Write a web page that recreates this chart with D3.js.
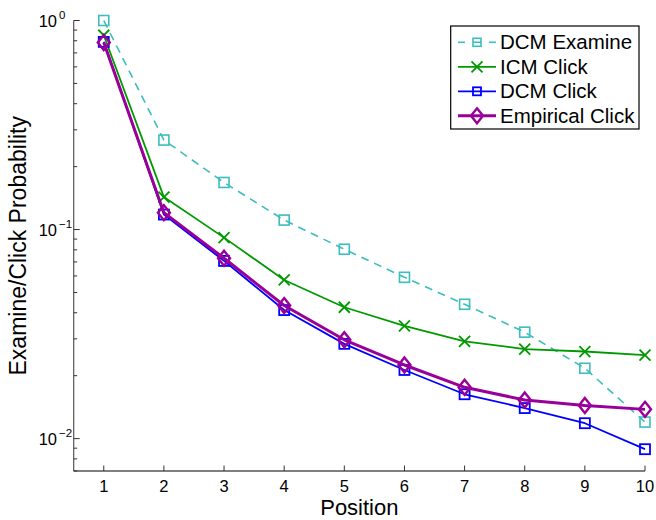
<!DOCTYPE html>
<html>
<head>
<meta charset="utf-8">
<script src="https://cdn.jsdelivr.net/npm/d3@7"></script>
<style>
  html, body { margin: 0; padding: 0; background: #fff; }
  svg { display: block; font-family: "Liberation Sans", Arial, Helvetica, sans-serif; }
</style>
</head>
<body>
<svg id="chart" width="656" height="520"></svg>
<script>
// ---- data ----
const positions = [1, 2, 3, 4, 5, 6, 7, 8, 9, 10];
const dcmExamine = [1.0, 0.268, 0.168, 0.111, 0.0805, 0.0591, 0.0439, 0.0323, 0.0217, 0.0120];
const icmClick = [0.85, 0.143, 0.0915, 0.0574, 0.0425, 0.0346, 0.0292, 0.0268, 0.0261, 0.0251];
const dcmClick = [0.79, 0.118, 0.0708, 0.0412, 0.0284, 0.0213, 0.0163, 0.0140, 0.01185, 0.0089];
const empiricalClick = [0.785, 0.1205, 0.0729, 0.0433, 0.0297, 0.0225, 0.0176, 0.0153, 0.0144, 0.0138];
const seriesNames = ["DCM Examine", "ICM Click", "DCM Click", "Empirical Click"];
const xTicks = [1, 2, 3, 4, 5, 6, 7, 8, 9, 10];
const yMajorTicks = [1, 0.1, 0.01];
const yMajorExps = ["0", "\u22121", "\u22122"];

const series = [
  { name: seriesNames[0], values: dcmExamine, color: "#3dbdbd", width: 1.6, dash: "8,6", marker: "square", mwidth: 1.6 },
  { name: seriesNames[1], values: icmClick, color: "#009a00", width: 1.8, dash: null, marker: "x", mwidth: 1.8 },
  { name: seriesNames[2], values: dcmClick, color: "#0000ff", width: 1.8, dash: null, marker: "square", mwidth: 1.8 },
  { name: seriesNames[3], values: empiricalClick, color: "#990099", width: 3, dash: null, marker: "diamond", mwidth: 2.4 }
];

// ---- layout ----
const svg = d3.select("#chart");
const pLeft = 73.7, pRight = 645, pTop = 20.5, pBottom = 471;
const x = d3.scaleLinear().domain([0.5, 10]).range([pLeft, pRight]);
const y = d3.scaleLog().domain([0.007, 1]).range([pBottom, pTop]);

// ---- axes ----
const g = svg.append("g");
g.append("line").attr("x1", pLeft).attr("x2", pLeft).attr("y1", pTop).attr("y2", pBottom)
  .attr("stroke", "#555").attr("stroke-width", 1.2);
g.append("line").attr("x1", pLeft).attr("x2", pRight).attr("y1", pBottom).attr("y2", pBottom)
  .attr("stroke", "#000").attr("stroke-width", 1.2);

const yMinor = [];
[0.001, 0.01, 0.1].forEach(d => { for (let k = 2; k <= 9; k++) yMinor.push(+(d * k).toPrecision(3)); });
yMinor.filter(v => v >= 0.007 && v < 1).forEach(v => {
  g.append("line").attr("x1", pLeft).attr("x2", pLeft + 3.5).attr("y1", y(v)).attr("y2", y(v))
    .attr("stroke", "#333").attr("stroke-width", 1);
});
yMajorTicks.forEach((v, i) => {
  g.append("line").attr("x1", pLeft).attr("x2", pLeft + 6).attr("y1", y(v)).attr("y2", y(v))
    .attr("stroke", "#333").attr("stroke-width", 1);
  g.append("text").attr("x", 57).attr("y", y(v) + 6.5)
    .attr("text-anchor", "end").attr("font-size", 16.5).attr("fill", "#000").text("10");
  g.append("text").attr("x", 59).attr("y", y(v) - 1.5)
    .attr("text-anchor", "start").attr("font-size", 11.5).attr("fill", "#000").text(yMajorExps[i]);
});

xTicks.forEach(v => {
  g.append("line").attr("x1", x(v)).attr("x2", x(v)).attr("y1", pBottom).attr("y2", pBottom - 5.5)
    .attr("stroke", "#333").attr("stroke-width", 1);
  g.append("text").attr("x", x(v)).attr("y", 491.7).attr("text-anchor", "middle")
    .attr("font-size", 16.5).attr("fill", "#000").text(v);
});

svg.append("text").attr("x", (pLeft + pRight) / 2).attr("y", 515).attr("text-anchor", "middle")
  .attr("font-size", 22).attr("fill", "#000").text("Position");
svg.append("text").attr("transform", `translate(25.5,${(pTop + pBottom) / 2}) rotate(-90)`)
  .attr("text-anchor", "middle").attr("font-size", 23).attr("fill", "#000").text("Examine/Click Probability");

// ---- markers ----
function drawMarker(sel, type, cx, cy, color, sw, scale) {
  const s = scale || 1;
  if (type === "square") {
    const h = 5 * s;
    sel.append("rect").attr("x", cx - h).attr("y", cy - h).attr("width", 2 * h).attr("height", 2 * h)
      .attr("fill", "none").attr("stroke", color).attr("stroke-width", sw);
  } else if (type === "x") {
    const h = 5.5 * s;
    sel.append("path").attr("d", `M${cx - h},${cy - h}L${cx + h},${cy + h}M${cx - h},${cy + h}L${cx + h},${cy - h}`)
      .attr("fill", "none").attr("stroke", color).attr("stroke-width", sw);
  } else if (type === "diamond") {
    const w = 6 * s, hh = 7.5 * s;
    sel.append("path").attr("d", `M${cx},${cy - hh}L${cx + w},${cy}L${cx},${cy + hh}L${cx - w},${cy}Z`)
      .attr("fill", "none").attr("stroke", color).attr("stroke-width", sw);
  }
}

const line = d3.line().x((d, i) => x(positions[i])).y(d => y(d));
const plot = svg.append("g");
series.forEach(s => {
  const gs = plot.append("g");
  gs.append("path").attr("d", line(s.values)).attr("fill", "none")
    .attr("stroke", s.color).attr("stroke-width", s.width)
    .attr("stroke-dasharray", s.dash).attr("stroke-linejoin", "round");
  s.values.forEach((v, i) => drawMarker(gs, s.marker, x(positions[i]), y(v), s.color, s.mwidth, 1));
});

// ---- legend ----
const lg = svg.append("g");
lg.append("rect").attr("x", 450.7).attr("y", 26).attr("width", 188.3).attr("height", 103)
  .attr("fill", "#fff").attr("stroke", "#000").attr("stroke-width", 1.2);
series.forEach((s, i) => {
  const cy = 42.3 + i * 24.5;
  if (s.dash) {
    [[458, 465], [473, 481], [489, 496]].forEach(([a, b]) => {
      lg.append("line").attr("x1", a).attr("x2", b).attr("y1", cy).attr("y2", cy)
        .attr("stroke", s.color).attr("stroke-width", s.width);
    });
  } else {
    lg.append("line").attr("x1", 458).attr("x2", 496).attr("y1", cy).attr("y2", cy)
      .attr("stroke", s.color).attr("stroke-width", s.width);
  }
  drawMarker(lg, s.marker, 477, cy, s.color, s.mwidth, s.marker === "square" ? 0.8 : 1);
  lg.append("text").attr("x", 500).attr("y", cy + 7).attr("font-size", 20.5).attr("fill", "#000").text(s.name);
});
</script>
</body>
</html>
